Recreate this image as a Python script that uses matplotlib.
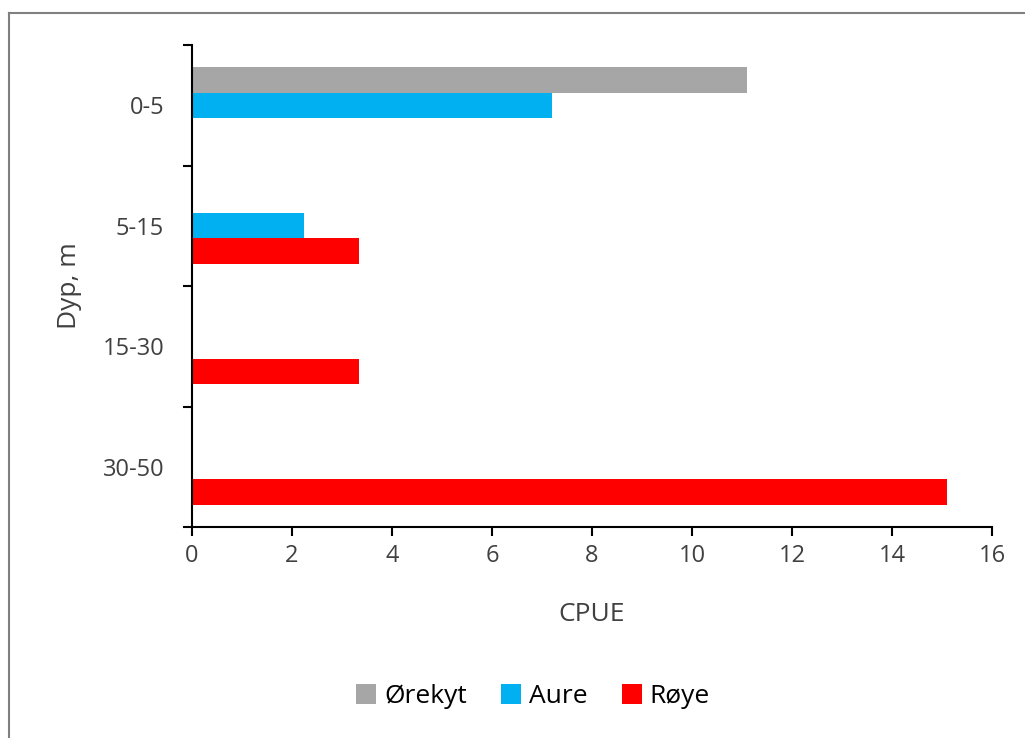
import matplotlib.pyplot as plt
from matplotlib.lines import Line2D
import numpy as np

plt.rcParams['font.family'] = ['Open Sans', 'DejaVu Sans']

depths = ['0-5', '5-15', '15-30', '30-50']
species = ['Ørekyt', 'Aure', 'Røye']
orekyt = [11.1, 0, 0, 0]
aure = [7.2, 2.25, 0, 0]
roye = [0, 3.35, 3.35, 15.1]
colors = ['#A6A6A6', '#00B0F0', '#FF0000']

fig = plt.figure(figsize=(10.25, 7.38), dpi=100)
ax = fig.add_axes([0.1873, 0.2859, 0.7805, 0.6531])

y = np.arange(len(depths))
h = 0.21
for i, (vals, c, name) in enumerate(zip([orekyt, aure, roye], colors, species)):
    ax.barh(y + (i - 1) * h, vals, height=h, color=c, label=name)

ax.set_xlim(0, 16)
ax.set_ylim(3.5, -0.5)
ax.set_xticks(np.arange(0, 17, 2))

# category boundaries get the tick marks, labels sit in the middle
ax.set_yticks(np.arange(-0.5, 4, 1))
ax.set_yticklabels([])
ax.set_yticks(y, minor=True)
ax.set_yticklabels(depths, minor=True)
ax.tick_params(axis='y', which='major', direction='out', length=6.5, width=1.5)
ax.tick_params(axis='y', which='minor', length=0, pad=20, labelsize=17, labelcolor='#404040')
ax.tick_params(axis='x', direction='out', length=6.5, width=1.5, labelsize=17,
               labelcolor='#404040', pad=6)

for s in ['top', 'right']:
    ax.spines[s].set_visible(False)
for s in ['left', 'bottom']:
    ax.spines[s].set_linewidth(1.5)

ax.set_xlabel('CPUE', fontsize=19, color='#404040', labelpad=24)
ax.set_ylabel('Dyp, m', fontsize=19, color='#404040', labelpad=15)

fig.legend(loc='center', bbox_to_anchor=(0.52, 0.056), ncol=3, frameon=False,
           fontsize=19, handlelength=0.75, handleheight=0.75, handletextpad=0.3,
           columnspacing=1.3)

# chart border
fig.add_artist(Line2D([9 / 1025, 9 / 1025], [0, 1 - 13 / 738], color='#808080', lw=1.5))
fig.add_artist(Line2D([9 / 1025, 1], [1 - 13 / 738, 1 - 13 / 738], color='#808080', lw=1.5))

fig.savefig('out.png', dpi=100)
